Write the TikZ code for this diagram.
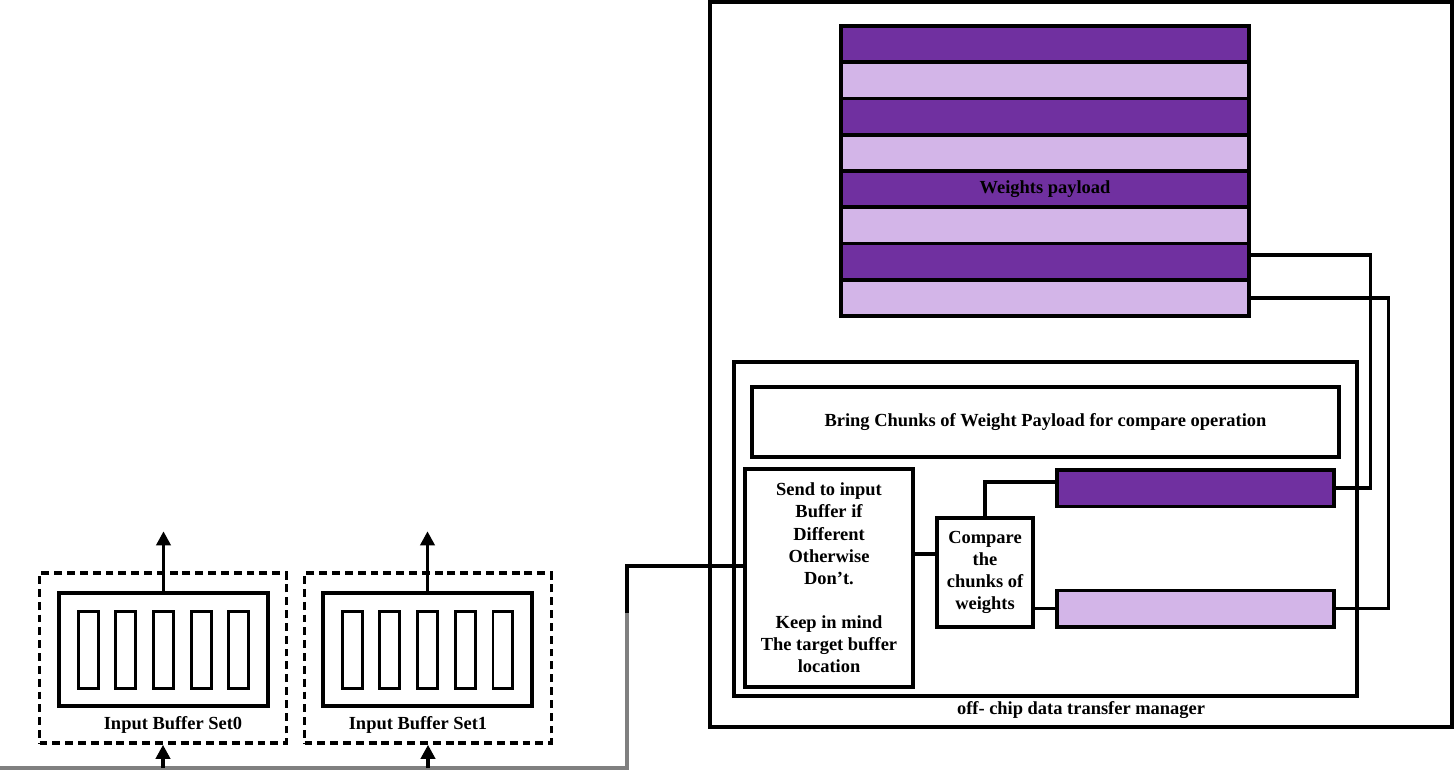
\documentclass[tikz,border=0pt]{standalone}
\usepackage{fontspec}
\setmainfont{Liberation Serif}
\usetikzlibrary{arrows.meta}
\definecolor{wdark}{RGB}{112,48,160}
\definecolor{wlight}{RGB}{211,181,232}
\tikzset{
  box/.style={draw, line width=2pt, inner sep=0pt},
  dbox/.style={draw, line width=2pt, inner sep=0pt, dash pattern=on 4.5pt off 2.8pt},
  wire/.style={line width=2pt},
  bus/.style={line width=2pt, color=black!50},
  uparrow/.style={line width=2pt, -{Triangle[length=8pt,width=8pt]}},
  txt/.style={font=\fontsize{10.5}{12.6}\selectfont\bfseries, align=center, inner sep=0pt}
}

\begin{document}
\begin{tikzpicture}[x=0.02cm, y=-0.02cm]
			%%%%% START %%%%%
			\useasboundingbox (0, 0) rectangle (1456, 772);

			% off-chip data transfer manager
			\node[box, minimum width=14.84cm, minimum height=14.5cm] (mgr) at (1081, 364.5) {};
			\node[txt] (mgrlbl) at (1081, 710) {off- chip data transfer manager};

			% weights payload
			\foreach \i/\c in {1/wdark, 2/wlight, 3/wdark, 4/wlight, 5/wdark, 6/wlight, 7/wdark, 8/wlight}
				\node[box, fill=\c, minimum width=8.16cm, minimum height=0.725cm] (row\i) at (1045, {26+36.25*(\i-0.5)}) {};
			\node[txt] (wlbl) at (row5) {Weights payload};

			% compare unit
			\node[box, minimum width=12.46cm, minimum height=6.68cm] (unit) at (1045.5, 529) {};
			\node[box, txt, minimum width=11.74cm, minimum height=1.4cm] (bring) at (1045.5, 422) {Bring Chunks of Weight Payload for compare operation};
			\node[box, txt, minimum width=3.36cm, minimum height=4.36cm] (send) at (829, 578) {Send to input\\Buffer if\\Different\\Otherwise\\Don’t.\\[12.6pt]Keep in mind\\The target buffer\\location};
			\node[box, txt, minimum width=1.92cm, minimum height=2.18cm] (compare) at (985, 572.5) {Compare\\the\\chunks of\\weights};
			\node[box, fill=wdark, minimum width=5.54cm, minimum height=0.73cm] (chunka) at (1195.5, 488) {};
			\node[box, fill=wlight, minimum width=5.54cm, minimum height=0.73cm] (chunkb) at (1195.5, 608.5) {};

			\draw[wire] ([yshift=0.13cm]row7.east) -- ++(120, 0) |- (chunka.east);
			\draw[wire] (row8.east) -- ++(138, 0) |- (chunkb.east);
			\draw[wire] (compare.north) |- ([yshift=0.12cm]chunka.west);
			\draw[wire] (chunkb.west) -- (chunkb.west -| compare.east);
			\draw[wire] ([yshift=0.48cm]send.east) -- ([yshift=0.48cm]send.east -| compare.west);

			% input buffers
			\node[dbox, minimum width=4.94cm, minimum height=3.4cm] (set0) at (163, 658) {};
			\node[dbox, minimum width=4.94cm, minimum height=3.4cm] (set1) at (428, 658) {};
			\node[box, minimum width=4.18cm, minimum height=2.26cm] (buf0) at (163.5, 649.5) {};
			\node[box, minimum width=4.18cm, minimum height=2.26cm] (buf1) at (427.5, 649.5) {};
			\foreach \b in {0, 1}
				\foreach \k in {-2, ..., 2}
					\node[box, line width=1.7pt, minimum width=0.4cm, minimum height=1.54cm] (slot\b\k) at ([xshift=\k*0.755cm]buf\b.center) {};
			\node[txt] (lbl0) at (173, 725) {Input Buffer Set0};
			\node[txt] (lbl1) at (418, 725) {Input Buffer Set1};

			\draw[uparrow] (buf0.north) -- ++(0, -60);
			\draw[uparrow] (buf1.north) -- ++(0, -60);

			% link to the send box
			\coordinate (bend) at (627, 613);
			\coordinate (busend) at (0, 768);
			\draw[wire] ([yshift=0.24cm]send.west) -| (bend);
			\draw[bus] (bend) |- (busend);
			\draw[uparrow] (set0.south |- busend) -- (set0.south);
			\draw[uparrow] (set1.south |- busend) -- (set1.south);

			%%%%% END %%%%%
\end{tikzpicture}
\end{document}
